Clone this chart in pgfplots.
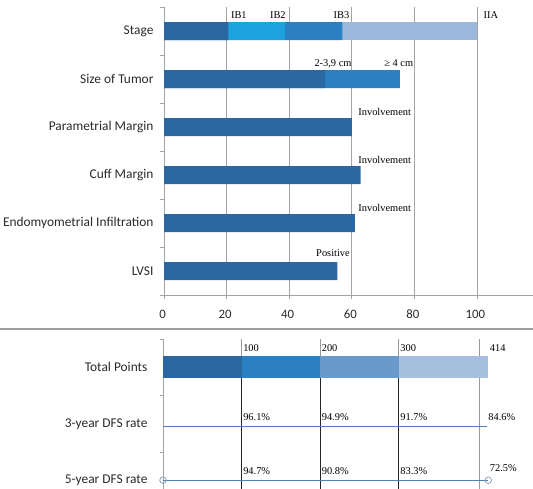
\documentclass[border=0pt]{standalone}
\usepackage{pgfplots}
\pgfplotsset{compat=1.18}
\usepackage{fontspec}
\setmainfont{Liberation Serif}
\newfontfamily\calfont{Carlito}

\definecolor{segDark}{HTML}{2B68A2}
\definecolor{segCyan}{HTML}{1CA3DF}
\definecolor{segMid}{HTML}{2B80C3}
\definecolor{segLight}{HTML}{9CB8DB}
\definecolor{segSteel}{HTML}{6A9ACB}
\definecolor{segPale}{HTML}{A6BFDF}
\definecolor{axisgray}{HTML}{A3A3A3}
\definecolor{dfsline}{HTML}{4C80B6}
\definecolor{circgray}{HTML}{8FA3B8}
\definecolor{labelgray}{HTML}{2A2A2A}

\newcommand{\catfont}{\calfont\fontsize{13.4bp}{15bp}\selectfont}
\newcommand{\notefont}{\fontsize{10.4bp}{12bp}\selectfont}

\pgfplotsset{
  nomobar/.style={xbar, bar shift=0pt, draw=none, fill=#1},
  notelabels/.style={draw=none, mark=none, nodes near coords,
    point meta=explicit symbolic,
    nodes near coords style={font=\notefont, text=black, anchor=base west,
      inner sep=0pt, xshift=1.5bp, yshift=#1}},
}

\begin{document}
\begin{tikzpicture}
\path[use as bounding box] (0bp,0bp) rectangle (533bp,-489bp);

% ---- points scale for each predictor ----
\begin{axis}[
  at={(164bp,-7bp)}, anchor=north west,
  scale only axis, width=369.3bp, height=288bp,
  xmin=0, xmax=118, ymin=-0.5, ymax=5.5,
  clip=false,
  axis lines=left, axis line style={draw=axisgray, line width=0.8bp, -},
  xtick={0,20,...,100},
  xticklabel style={font=\calfont\fontsize{12.8bp}{14bp}\selectfont, text=labelgray, yshift=-8bp, xshift=-1.5bp},
  /pgf/number format/assume math mode=true,
  xmajorgrids, grid style={axisgray, line width=0.8bp},
  ytick={-0.5,0.5,...,5.5}, yticklabels={},
  tick align=outside, major tick length=3.5bp,
  tick style={axisgray, line width=0.8bp},
  extra y ticks={0,1,2,3,4,5},
  extra y tick labels={LVSI, Endomyometrial Infiltration, Cuff Margin, Parametrial Margin, Size of Tumor, Stage},
  extra y tick style={major tick length=0pt,
    yticklabel style={font=\catfont, text=labelgray, xshift=-7bp}},
]
% Stage: cumulative points at IB1, IB2, IB3, IIA
\addplot[nomobar=segLight, bar width=18bp] coordinates {(100,5)};
\addplot[nomobar=segMid,   bar width=18bp] coordinates {(57.0,5) (75.4,4)};
\addplot[nomobar=segCyan,  bar width=18bp] coordinates {(38.6,5)};
\addplot[nomobar=segDark,  bar width=18bp] coordinates
  {(20.6,5) (51.5,4) (60.0,3) (62.8,2) (61.0,1) (55.4,0)};

\node[font=\notefont, anchor=base west, yshift=12.5bp] at (axis cs:20.3,5) {IB1};
\node[font=\notefont, anchor=base east, yshift=12.5bp] at (axis cs:40.0,5) {IB2};
\node[font=\notefont, anchor=base,      yshift=12.5bp] at (axis cs:56.7,5) {IB3};
\node[font=\notefont, anchor=base west, yshift=12.5bp] at (axis cs:101,5) {IIA};
\node[font=\notefont, anchor=base, yshift=12.5bp] at (axis cs:54,4) {2-3,9 cm};
\node[font=\notefont, anchor=base, yshift=12.5bp] at (axis cs:75,4) {≥ 4 cm};
\node[font=\notefont, anchor=base west, yshift=11.7bp] at (axis cs:61,3) {Involvement};
\node[font=\notefont, anchor=base west, yshift=11.7bp] at (axis cs:61,2) {Involvement};
\node[font=\notefont, anchor=base west, yshift=11.7bp] at (axis cs:61,1) {Involvement};
\node[font=\notefont, anchor=base, yshift=14.5bp] at (axis cs:54,0) {Positive};
\end{axis}

% divider between the two panels
\draw[line width=1.6bp, gray!75] (0bp,-329bp) -- (533bp,-329bp);

% ---- total points and predicted DFS ----
\begin{axis}[
  at={(163bp,-339bp)}, anchor=north west,
  scale only axis, width=370bp, height=150bp,
  xmin=0, xmax=471, ymin=-0.155, ymax=2.5,
  clip=false,
  axis lines=left, axis line style={draw=axisgray, line width=0.8bp, -},
  x axis line style={draw=none},
  xtick={100,200,300,403}, xticklabels={}, xtick style={draw=none},
  xmajorgrids, grid style={gray!80, line width=0.9bp},
  ytick={0.5,1.5,2.5}, yticklabels={},
  tick align=outside, major tick length=3.5bp,
  ytick style={axisgray, line width=0.8bp},
  extra y ticks={0,1,2},
  extra y tick labels={5-year DFS rate, 3-year DFS rate, Total Points},
  extra y tick style={major tick length=0pt,
    yticklabel style={font=\catfont, text=labelgray, xshift=-12bp}},
]
\addplot[nomobar=segPale,  bar width=22bp] coordinates {(414,2)};
\addplot[nomobar=segSteel, bar width=22bp] coordinates {(300,2)};
\addplot[nomobar=segMid,   bar width=22bp] coordinates {(200,2)};
\addplot[nomobar=segDark,  bar width=22bp] coordinates {(100,2)};
\addplot[notelabels=15.5bp] coordinates
  {(100,2) [100] (200,2) [200] (300,2) [300] (414,2) [414]};

% dark reference lines below the total-points bar
\pgfplotsinvokeforeach{100,200,300}{
  \addplot[black!85, line width=0.9bp, mark=none] coordinates {(#1,1.805) (#1,-0.155)};
}

% 3-year DFS
\addplot[draw=dfsline, line width=1.1bp, mark=none] coordinates
  {(0,0.95) (412,0.95)};
\addplot[notelabels=5.6bp] coordinates
  {(100,0.95) [96.1\%] (200,0.95) [94.9\%] (300,0.95) [91.7\%] (412,0.95) [84.6\%]};

% 5-year DFS
\addplot[draw=dfsline, line width=1.1bp, mark=o, mark size=3.3bp,
  mark options={draw=circgray, fill=white, line width=0.8bp}] coordinates
  {(0,0) (414,0)};
\addplot[notelabels=5.8bp] coordinates
  {(100,0) [94.7\%] (200,0) [90.8\%] (300,0) [83.3\%]};
\addplot[notelabels=8.4bp] coordinates {(414,0) [72.5\%]};
\end{axis}
\end{tikzpicture}
\end{document}
